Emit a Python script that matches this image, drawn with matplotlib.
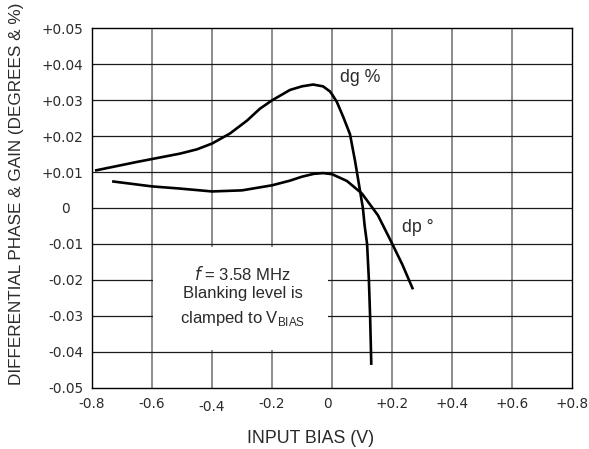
import matplotlib
matplotlib.use('Agg')
import numpy as np
import matplotlib.pyplot as plt
import matplotlib.transforms as mtrans
from matplotlib.patches import Rectangle

# data
dg_x = [-0.79, -0.65, -0.507, -0.45, -0.4, -0.34, -0.283, -0.24, -0.2, -0.14,
        -0.10, -0.063, -0.03, -0.007, 0.0, 0.016, 0.037, 0.06, 0.077, 0.09,
        0.103, 0.109, 0.117, 0.123, 0.127, 0.13, 0.131]
dg_y = [0.0104, 0.0128, 0.0151, 0.0163, 0.0179, 0.0207, 0.0243, 0.0276, 0.0299, 0.0328,
        0.0338, 0.0343, 0.0338, 0.0324, 0.0316, 0.0295, 0.0254, 0.0205, 0.0130, 0.0065,
        0.0, -0.005, -0.01, -0.02, -0.03, -0.04, -0.0436]

dp_x = [-0.733, -0.6, -0.507, -0.4, -0.3, -0.2, -0.14, -0.1, -0.06, -0.03, 0.0,
        0.05, 0.1, 0.153, 0.197, 0.235, 0.27]
dp_y = [0.0074, 0.0060, 0.0054, 0.0046, 0.0049, 0.0063, 0.0076, 0.0087, 0.0095, 0.0097, 0.0094,
        0.0075, 0.0040, -0.0020, -0.0093, -0.0158, -0.0226]

xticks = [-0.8, -0.6, -0.4, -0.2, 0, 0.2, 0.4, 0.6, 0.8]
xticklabels = ['-0.8', '-0.6', '-0.4', '-0.2', '0', '+0.2', '+0.4', '+0.6', '+0.8']
yticks = [-0.05, -0.04, -0.03, -0.02, -0.01, 0, 0.01, 0.02, 0.03, 0.04, 0.05]
yticklabels = ['-0.05', '-0.04', '-0.03', '-0.02', '-0.01', '0',
               '+0.01', '+0.02', '+0.03', '+0.04', '+0.05']

plt.rcParams['font.family'] = ['Liberation Sans', 'DejaVu Sans']
txtcol = '#2a2a2a'

fig = plt.figure(figsize=(5.89, 4.49), dpi=100)
ax = fig.add_axes([0.1562, 0.1359, 0.8149, 0.8017])

for xv in xticks[1:-1]:
    ax.axvline(xv, color='#6e6e6e', linewidth=1.1, zorder=1)
for yv in yticks[1:-1]:
    ax.axhline(yv, color='#1a1a1a', linewidth=0.9, zorder=1)

# white note box covering grid
ax.add_patch(Rectangle((-0.597, -0.0395), 0.584, 0.0288, facecolor='white',
                       edgecolor='none', zorder=2))
ax.text(-0.298, -0.0182, '$f$ = 3.58 MHz', ha='center', va='center',
        fontsize=12, color=txtcol, zorder=3)
ax.text(-0.298, -0.0238, 'Blanking level is', ha='center', va='center',
        fontsize=12, color=txtcol, zorder=3)
ax.text(-0.298, -0.0307, 'clamped to V$_{\\mathregular{BIAS}}$', ha='center', va='center',
        fontsize=12, color=txtcol, zorder=3)

ax.plot(dg_x, dg_y, color='black', linewidth=1.9, zorder=4, solid_capstyle='butt')
ax.plot(dp_x, dp_y, color='black', linewidth=1.9, zorder=4, solid_capstyle='butt')

ax.text(0.027, 0.0362, 'dg %', ha='left', va='center', fontsize=12.8, color=txtcol)
ax.text(0.233, -0.0054, 'dp °', ha='left', va='center', fontsize=12.8, color=txtcol)

ax.set_xlim(-0.8, 0.8)
ax.set_ylim(-0.05, 0.05)
ax.set_xticks(xticks)
ax.set_xticklabels(xticklabels, fontsize=9.8, color=txtcol, family='DejaVu Sans')
ax.set_yticks(yticks)
ax.set_yticklabels(yticklabels, fontsize=9.8, color=txtcol, family='DejaVu Sans')
ax.tick_params(axis='x', length=0, pad=6.7)
ax.tick_params(axis='y', length=0, pad=6.3)
for sp in ax.spines.values():
    sp.set_color('black')
    sp.set_linewidth(1.0)

# small offsets of a few tick labels as in the original
def shift(lbl, dx, dy):
    lbl.set_transform(lbl.get_transform() +
                      mtrans.ScaledTranslation(dx / 100., dy / 100., fig.dpi_scale_trans))

xl = ax.get_xticklabels()
shift(xl[2], 0, -3)
shift(xl[4], -5, 0)
yl = ax.get_yticklabels()
shift(yl[5], -14, 0)

ax.set_xlabel('INPUT BIAS (V)', fontsize=12.8, color=txtcol)
ax.xaxis.set_label_coords(0.456, -0.117)
ax.set_ylabel('DIFFERENTIAL PHASE & GAIN (DEGREES & %)', fontsize=12.3, color=txtcol)
ax.yaxis.set_label_coords(-0.142, 0.54)

plt.savefig('out.png', dpi=100)
